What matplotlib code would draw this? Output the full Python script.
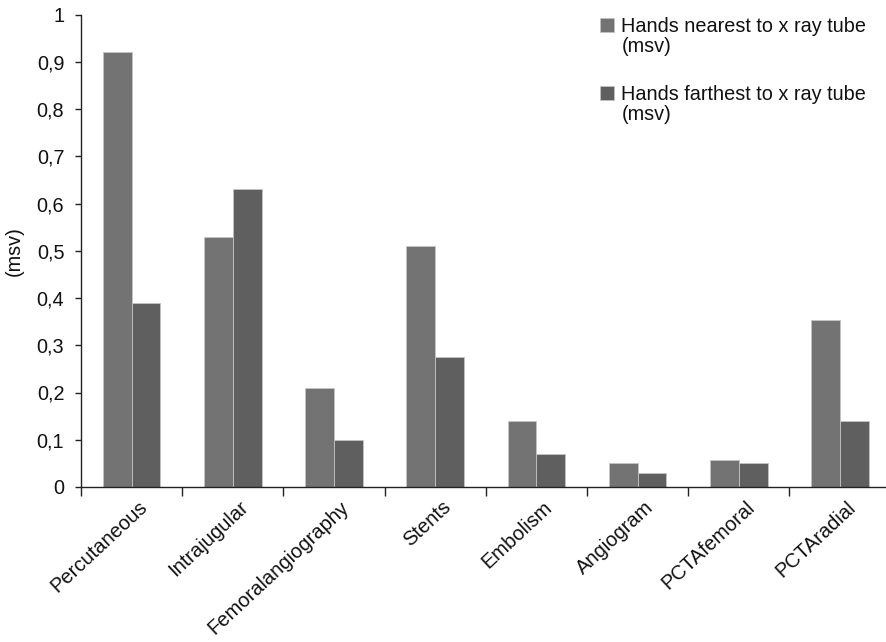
import numpy as np
import matplotlib
matplotlib.use("Agg")
import matplotlib.pyplot as plt
from matplotlib.patches import Rectangle
from matplotlib.legend_handler import HandlerBase
from matplotlib.container import BarContainer
from matplotlib.transforms import ScaledTranslation

plt.rcParams['font.family'] = ['Liberation Sans', 'DejaVu Sans']

categories = ["Percutaneous", "Intrajugular", "Femoralangiography", "Stents",
              "Embolism", "Angiogram", "PCTAfemoral", "PCTAradial"]
nearest = [0.92, 0.53, 0.21, 0.51, 0.14, 0.05, 0.057, 0.353]
farthest = [0.39, 0.63, 0.10, 0.275, 0.07, 0.03, 0.05, 0.14]
series_labels = ["Hands nearest to x ray tube\n(msv)",
                 "Hands farthest to x ray tube\n(msv)"]
yticks = [0, 0.1, 0.2, 0.3, 0.4, 0.5, 0.6, 0.7, 0.8, 0.9, 1.0]
ytick_labels = ["0", "0,1", "0,2", "0,3", "0,4", "0,5", "0,6", "0,7", "0,8", "0,9", "1"]

c_near = "#737373"
c_far = "#5f5f5f"
edge = "#c4c4c4"
axis_col = "#222222"
fs = 14.3
fs_cat = 14.5

fig = plt.figure(figsize=(8.86, 6.42), dpi=100)
ax = fig.add_axes([81 / 886, 155 / 642, 809.6 / 886, 472.5 / 642])

x = np.arange(len(categories)) + 0.5
w = 0.285
ax.bar(x - w / 2, nearest, w, color=c_near, edgecolor=edge, linewidth=0.6,
       label=series_labels[0])
ax.bar(x + w / 2, farthest, w, color=c_far, edgecolor=edge, linewidth=0.6,
       label=series_labels[1])

ax.set_xlim(0, len(categories))
ax.set_ylim(0, 1)

for s in ["top", "right"]:
    ax.spines[s].set_visible(False)
for s in ["left", "bottom"]:
    ax.spines[s].set_color(axis_col)
    ax.spines[s].set_linewidth(1.0)

ax.set_yticks(yticks)
ax.set_yticklabels(ytick_labels, fontsize=fs)
ax.tick_params(axis="y", direction="out", length=4, width=1.0, color=axis_col,
               pad=8, labelcolor="#111111")

# Category boundaries carry the ticks; names sit at the centres
ax.set_xticks(np.arange(len(categories) + 1))
ax.set_xticklabels([])
ax.tick_params(axis="x", which="major", direction="out", length=6.5, width=1.0,
               color=axis_col)
ax.set_xticks(x, minor=True)
ax.set_xticklabels(categories, minor=True, fontsize=fs_cat, rotation=43,
                   ha="right", va="top", rotation_mode="anchor", color="#111111")
ax.tick_params(axis="x", which="minor", length=0, pad=0)
shift = ScaledTranslation(4.5 / 72, -7.5 / 72, fig.dpi_scale_trans)
for lab in ax.xaxis.get_minorticklabels():
    lab.set_transform(lab.get_transform() + shift)

ax.set_ylabel("(msv)", fontsize=fs, color="#111111")
ax.yaxis.set_label_coords(-0.071, 0.5)


class FirstLineSquare(HandlerBase):
    """Square legend key aligned with the first line of a two-line label."""

    def create_artists(self, legend, orig_handle, xdescent, ydescent,
                       width, height, fontsize, trans):
        up = fontsize * 0.6
        face = orig_handle.patches[0].get_facecolor()
        p = Rectangle((-xdescent, -ydescent + up), width, height,
                      facecolor=face, edgecolor=edge, linewidth=0.5,
                      transform=trans)
        return [p]


handles, labels = ax.get_legend_handles_labels()
leg = ax.legend(handles, labels, loc="upper left",
                bbox_to_anchor=(600 / 886, 1 - 17 / 642),
                bbox_transform=fig.transFigure, frameon=False, fontsize=fs,
                handlelength=0.72, handleheight=0.72, handletextpad=0.35,
                labelspacing=1.42, borderpad=0, borderaxespad=0,
                handler_map={BarContainer: FirstLineSquare()})
for t in leg.get_texts():
    t.set_linespacing(1.1)
    t.set_color("#111111")

fig.savefig("out.png", dpi=100)
